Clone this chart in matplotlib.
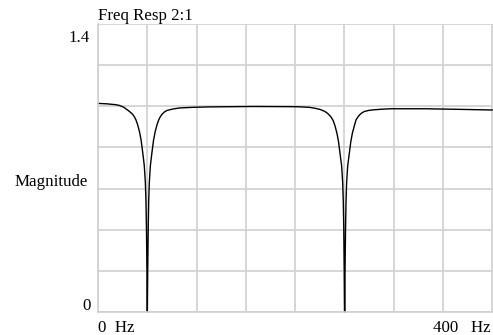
import matplotlib
matplotlib.use("Agg")
import matplotlib.pyplot as plt

# Data (frequency in Hz, magnitude)
freq_hz = [0, 5, 10, 15, 20, 25, 30, 34.2, 37, 40, 42, 43.9, 46, 48.2, 50, 51.4, 52.6,
           53.7, 54.9, 55.6, 56.2, 56.7, 57.2,
           57.7, 58.2, 58.8, 59.5, 60.7, 61.8, 63.0, 64.4, 66.2, 68.4, 70.5, 72.4, 74.4,
           77.2, 80.2, 87, 95, 110, 130, 180, 230,
           245, 252, 258, 263, 266, 268.8, 270.8, 272.7, 274.8, 277, 278.8, 280.2, 281.4,
           282.5, 283.7, 284.4, 285, 285.5, 286,
           286.5, 287, 287.6, 288.3, 289.5, 290.6, 291.8, 293.2, 295, 297.2, 299.3, 301.2,
           303.2, 306, 309, 314, 320, 330, 340, 380, 420, 457]
magnitude = [1.014, 1.013, 1.012, 1.010, 1.008, 1.004, 0.995, 0.982, 0.973, 0.962, 0.95, 0.935,
             0.91, 0.875, 0.835, 0.79, 0.75, 0.71, 0.63, 0.54, 0.40, 0.22, 0.0,
             0.22, 0.40, 0.54, 0.63, 0.71, 0.75, 0.79, 0.835, 0.875, 0.91, 0.935, 0.95, 0.962,
             0.973, 0.98, 0.987, 0.992, 0.995, 0.997, 0.999, 0.998,
             0.995, 0.99, 0.984, 0.975, 0.966, 0.955, 0.944, 0.93, 0.905, 0.87, 0.83, 0.785,
             0.745, 0.71, 0.63, 0.54, 0.40, 0.22, 0.0,
             0.22, 0.40, 0.54, 0.63, 0.71, 0.745, 0.785, 0.83, 0.87, 0.905, 0.935, 0.947,
             0.958, 0.968, 0.975, 0.98, 0.983, 0.986, 0.988, 0.988, 0.985, 0.982]

x_grid = [i * 400 / 7 for i in range(9)]
y_grid = [i * 0.2 for i in range(8)]

title = "Freq Resp 2:1"
y_label = "Magnitude"
y_tick_labels = ["1.4", "0"]
x_tick_labels = ["0  Hz", "400   Hz"]

W, H = 493, 335
fig = plt.figure(figsize=(W / 100, H / 100), dpi=100)
plt.rcParams['font.family'] = ['Liberation Serif', 'DejaVu Serif']

L, R, T, B = 98, 493, 24, 312
ax = fig.add_axes([L / W, 1 - B / H, (R - L) / W, (B - T) / H])
ax.set_xlim(0, 458)
ax.set_ylim(0, 1.4)
ax.set_xticks(x_grid)
ax.set_yticks(y_grid)
ax.tick_params(length=0, labelbottom=False, labelleft=False)
ax.grid(True, color='#d0d0d0', linewidth=1.2)
for s in ['top', 'right']:
    ax.spines[s].set_visible(False)
for s in ['left', 'bottom']:
    ax.spines[s].set_color('#d0d0d0')
    ax.spines[s].set_linewidth(1.2)
ax.set_axisbelow(True)

ax.plot(freq_hz, magnitude, color='black', linewidth=1.0, clip_on=False,
        solid_joinstyle='round')

fs = 12.2
def ptext(x, y, s, ha='left', va='baseline'):
    fig.text(x / W, 1 - y / H, s, ha=ha, va=va, fontsize=fs, color='black')

ptext(98, 20, title)
ptext(90, 42, y_tick_labels[0], ha='right')
ptext(91, 310, y_tick_labels[1], ha='right')
ptext(88, 186, y_label, ha='right')
ptext(98, 332, x_tick_labels[0])
ptext(433, 332, x_tick_labels[1])

fig.savefig("out.png", dpi=100)
